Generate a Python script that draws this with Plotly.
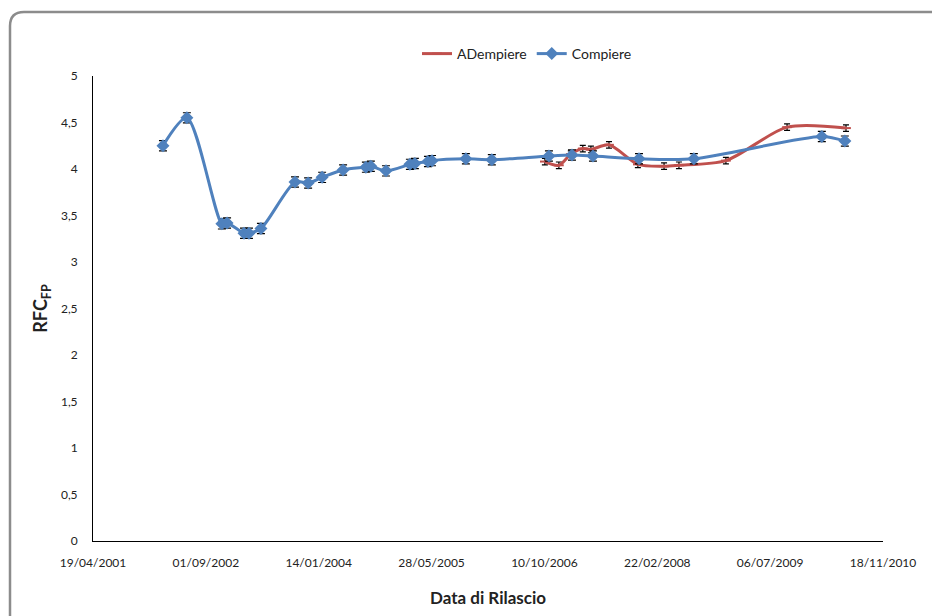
import plotly.graph_objects as go

# ---- data ----
compiere_dates = ["2002-02-23", "2002-06-09", "2002-11-11", "2002-12-04", "2003-02-17",
                  "2003-03-11", "2003-05-03", "2003-10-01", "2003-11-28", "2004-01-29",
                  "2004-05-01", "2004-08-10", "2004-09-01", "2004-11-07", "2005-02-21",
                  "2005-03-15", "2005-05-12", "2005-05-30", "2005-10-27", "2006-02-19",
                  "2006-10-30", "2007-02-09", "2007-05-13", "2007-12-03", "2008-08-02",
                  "2010-02-20", "2010-06-02"]
compiere_vals = [4.25, 4.55, 3.41, 3.42, 3.31, 3.31, 3.36, 3.86, 3.85, 3.91,
                 3.99, 4.02, 4.03, 3.98, 4.05, 4.06, 4.08, 4.09, 4.11, 4.10,
                 4.14, 4.15, 4.14, 4.11, 4.11, 4.35, 4.30]
compiere_err = [0.055] * len(compiere_vals)

adempiere_dates = ["2006-10-12", "2006-12-13", "2007-02-04", "2007-03-29", "2007-05-04",
                   "2007-07-23", "2007-11-28", "2008-03-23", "2008-05-28", "2008-12-22",
                   "2009-09-19", "2010-06-07"]
adempiere_vals = [4.08, 4.04, 4.16, 4.22, 4.21, 4.26, 4.05, 4.03, 4.04, 4.09, 4.45, 4.44]
adempiere_err = [0.035] * len(adempiere_vals)

x_tickvals = ["2001-04-19", "2002-09-01", "2004-01-14", "2005-05-28", "2006-10-10",
              "2008-02-22", "2009-07-06", "2010-11-18"]
x_ticktext = ["19/04/2001", "01/09/2002", "14/01/2004", "28/05/2005", "10/10/2006",
              "22/02/2008", "06/07/2009", "18/11/2010"]

BLUE = "#4F81BD"
RED = "#C0504D"
FONT = "Lato"

fig = go.Figure()
fig.add_trace(go.Scatter(
    x=adempiere_dates, y=adempiere_vals, name="ADempiere",
    mode="lines+markers",
    line=dict(color=RED, width=3, shape="spline", smoothing=0.8),
    marker=dict(symbol="line-ew-open", size=7, color=RED, line=dict(color=RED, width=2)),
    error_y=dict(type="data", array=adempiere_err, color="black", thickness=1.2, width=3),
))
fig.add_trace(go.Scatter(
    x=compiere_dates, y=compiere_vals, name="Compiere",
    mode="lines+markers",
    line=dict(color=BLUE, width=3, shape="spline", smoothing=0.8),
    marker=dict(symbol="diamond", size=10, color=BLUE),
    error_y=dict(type="data", array=compiere_err, color="black", thickness=1.2, width=4),
))

# page body adds an 8px offset; compensate so the plot lands where the reference has it
OFF = 8
W, H = 940 - OFF, 616 - OFF
L, T = 93 - OFF, 76 - OFF
R = W - (883 - OFF)
B = H - (541 - OFF)
pw, ph = W - L - R, H - T - B


def px_to_paper(x, y):
    # x, y are screen pixels of the reference
    return (x - OFF - L) / pw, (H - B - (y - OFF)) / ph


# rounded outer frame
x0, y0 = px_to_paper(10, 12)
x1, y1 = px_to_paper(980, 660)
rx = 14 / pw
ry = 14 / ph
path = (f"M {x0+rx},{y0} L {x1},{y0} L {x1},{y1} L {x0},{y1} L {x0},{y0-ry} "
        f"Q {x0},{y0} {x0+rx},{y0} Z")
fig.add_shape(type="path", xref="paper", yref="paper", path=path,
              line=dict(color="#8c8c8c", width=2.5), fillcolor="rgba(0,0,0,0)", layer="below")

lx, ly = px_to_paper(527, 54)

fig.update_layout(
    width=W, height=H,
    margin=dict(l=L, r=R, t=T, b=B),
    paper_bgcolor="white", plot_bgcolor="white",
    separators=",.",
    font=dict(family=FONT, size=12, color="#222"),
    showlegend=True,
    legend=dict(orientation="h", x=lx, xanchor="center", y=ly, yanchor="middle",
                font=dict(family=FONT, size=14, color="#222"),
                itemwidth=30, tracegroupgap=0),
    xaxis=dict(
        type="date", range=["2001-04-19", "2010-11-18"],
        tickmode="array", tickvals=x_tickvals, ticktext=x_ticktext,
        showgrid=False, zeroline=False, showline=True, linecolor="black", linewidth=1,
        ticks="", tickfont=dict(family=FONT, size=12, color="#222"),
        ticklabelstandoff=11,
        title=dict(text="<b>Data di Rilascio</b>", font=dict(family=FONT, size=17, color="#222"),
                   standoff=22),
    ),
    yaxis=dict(
        range=[0, 5], dtick=0.5, tick0=0,
        showgrid=False, zeroline=False, showline=True, linecolor="black", linewidth=1,
        ticks="", tickfont=dict(family=FONT, size=12, color="#222"),
        ticklabelstandoff=12,
        title=dict(text="<b>RFC<sub>FP</sub></b>", font=dict(family=FONT, size=18, color="#222"),
                   standoff=8),
    ),
)

fig.write_html("out.html")
